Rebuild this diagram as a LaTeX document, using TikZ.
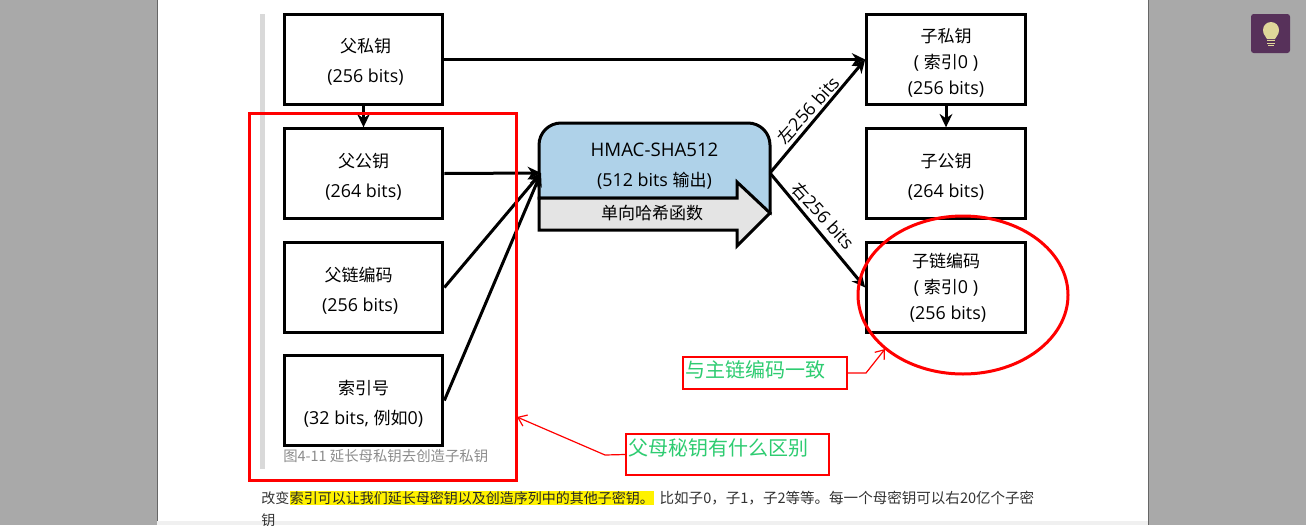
\documentclass[tikz,border=0pt]{standalone}
\usepackage{fontspec}
\usepackage{xcolor}
\setmainfont{Open Sans}
\newfontfamily\cjk{Noto Sans CJK SC}
\usetikzlibrary{positioning, arrows.meta, shapes.geometric}
\definecolor{pagegray}{HTML}{A9A9A9}
\definecolor{edgegray}{HTML}{666666}
\definecolor{bargray}{HTML}{D9D9D9}
\definecolor{hmacblue}{HTML}{AFD2E9}
\definecolor{hashgray}{HTML}{E4E4E4}
\definecolor{notegreen}{HTML}{2ECC71}
\definecolor{bulbpurple}{HTML}{57315A}
\definecolor{bulbyellow}{HTML}{E0D79A}
\newcommand{\zh}[1]{{\cjk\fontsize{12.75}{15}\selectfont #1}}
\newcommand{\keytop}{\rule{0pt}{16pt}}
\tikzstyle{keybox} = [rectangle, minimum width=119pt, minimum height=67pt, text centered, align=center, draw=black, line width=2.25pt, fill=white, font=\fontsize{13.4}{22.5}\selectfont]
\tikzstyle{threeline} = [font=\fontsize{13.4}{19.5}\selectfont]
\tikzstyle{arrow} = [line width=2.25pt,-{Stealth[length=10pt,width=9.5pt]}]
\tikzstyle{bitslabel} = [font=\fontsize{13.4}{15}\selectfont, inner sep=0pt]
\tikzstyle{redbox} = [rectangle, draw=red, inner sep=0pt]
\tikzstyle{note} = [redbox, line width=1.5pt, text=notegreen, font=\cjk\fontsize{15}{18}\selectfont, align=left]
\tikzstyle{notearrow} = [red, line width=0.9pt, -{Straight Barb[length=6pt,width=9pt]}]
\tikzstyle{bodytext} = [inner sep=0pt, text=black!80, font=\cjk\fontsize{10.5}{13}\selectfont]
\begin{document}
\begin{tikzpicture}[x=0.75pt, y=-0.75pt]
            \useasboundingbox (0,0) rectangle (1306,525);
            % Page background
            \fill [pagegray] (0,0) rectangle (1306,525);
            \fill [white] (157,0) rectangle (1148,525);
            \draw [edgegray, line width=0.75pt] (157,0) -- (157,525);
            \draw [edgegray, line width=0.75pt] (1148,0) -- (1148,525);
            \fill [black!6] (157,521) rectangle (1148,525);
            \fill [bargray] (260,14) rectangle (265,469);

            % Hash function shape
            \filldraw [fill=hmacblue, line width=2.25pt] (539,198) -- (539,145) arc (180:270:22) -- (748,123) arc (270:360:22) -- (770,213) -- (737,198) -- cycle;
            \filldraw [fill=hashgray, line width=2.25pt, line join=miter] (539,198) -- (737,198) -- (737,182) -- (770,213) -- (737,246) -- (737,230) -- (539,230) -- cycle;

            % Nodes
            \node (parentpriv) [keybox] at (363.5,59.5) {\rule{0pt}{14pt}\hspace*{3pt}\zh{父私钥}\\\hspace*{3pt}(256 bits)};
            \node (parentpub) [keybox] at (363.5,173.5) {\keytop\zh{父公钥}\\(264 bits)};
            \node (parentchain) [keybox] at (363.5,287.5) {\keytop\zh{父链编码}\hspace*{7.5pt}\\(256 bits)\hspace*{5pt}};
            \node (index) [keybox] at (363.5,400.5) {\keytop\zh{索引号}\\(32 bits, \zh{例如}0)};
            \node (childpriv) [keybox, threeline] at (946,59.5) {\keytop\zh{子私钥}\\( \zh{索引}0 )\\(256 bits)};
            \node (childpub) [keybox] at (946,173.5) {\keytop\zh{子公钥}\\(264 bits)};
            \node (childchain) [keybox, threeline] at (946,287.5) {\zh{子链编码}\\( \zh{索引}0 )\\\hspace*{3pt}(256 bits)};
            \node (hmac) [minimum width=173.25pt, minimum height=75pt, inner sep=0pt, align=center, font=\fontsize{13.4}{22}\selectfont] at (654.5,166) {{\fontsize{14}{22}\selectfont HMAC-SHA512}\\(512 bits \zh{输出})};
            \coordinate (hmacin) at (541,173);
            \coordinate (hmacout) at (770,173);
            \node (hash) [bitslabel, font=\cjk\fontsize{12.75}{15}\selectfont] at (652,213) {单向哈希函数};
            \node (caption) [inner sep=0pt, anchor=west, text=black!45, font=\cjk\fontsize{10.8}{13}\selectfont] at (283,456) {图4-11 延长母私钥去创造子私钥};

            % Body text under the figure
            \node (textA) [bodytext, anchor=west] at (261,498) {改变};
            \node (textB) [bodytext, right=0pt of textA, fill=yellow, text=black!85] {索引可以让我们延长母密钥以及创造序列中的其他子密钥。};
            \node (textC) [bodytext, right=4pt of textB, font=\cjk\fontsize{10.9}{13}\selectfont] {比如子0，子1，子2等等。每一个母密钥可以右20亿个子密};
            \node (textD) [bodytext, anchor=west] at (261,520) {钥};

            % Arrows
            \draw [arrow] (parentpriv) -- (parentpub);
            \draw [arrow] (parentpriv.east) -- (childpriv.west);
            \draw [arrow] (parentpub.east) -- (hmacin);
            \draw [arrow] (parentchain.east) -- (hmacin);
            \draw [arrow] (index.east) -- (hmacin);
            \draw [arrow] (childpriv) -- (childpub);
            \draw [arrow] (hmacout) -- (childpriv.west);
            \draw [arrow] (hmacout) -- (childchain.west);
            \node (leftbits) [bitslabel, rotate=48] at (808,110) {\zh{左}256 bits};
            \node (rightbits) [bitslabel, rotate=-48] at (823,216) {\zh{右}256 bits};

            % Red notes
            \node (leftframe) [redbox, line width=2.25pt, minimum width=200.25pt, minimum height=275.25pt] at (382.5,296.5) {};
            \node (circlemark) [ellipse, draw=red, line width=2.25pt, minimum width=157.5pt, minimum height=118.5pt, inner sep=0pt] at (963,295) {};
            \node (samenote) [note, minimum width=123pt, minimum height=24pt, text width=123pt] at (765,373) {\hspace{1.5pt}\raisebox{6pt}{与主链编码一致}};
            \node (diffnote) [note, minimum width=152.25pt, minimum height=30.75pt, text width=152.25pt] at (727.5,454.5) {\hspace{1.5pt}\raisebox{11.5pt}{父母秘钥有什么区别}};
            \coordinate (samebend) at (866,373);
            \coordinate (sametip) at (885,349);
            \coordinate (diffbend) at (605,455);
            \coordinate (difftip) at (517,417);
            \draw [notearrow] (samenote.east) -- (samebend) -- (sametip);
            \draw [notearrow] (diffnote.west) -- (diffbend) -- (difftip);

            % Bulb button
            \fill [bulbpurple, rounded corners=2pt] (1251,14) rectangle (1290,53);
            \fill [bulbyellow] (1267,39) .. controls (1266,36) and (1263,35) .. (1263,30) arc (180:360:8) .. controls (1279,35) and (1276,36) .. (1275,39) -- cycle;
            \fill [bulbyellow] (1267,40) rectangle (1275,41);
            \fill [bulbyellow] (1267,42.5) rectangle (1275,43.5);
            \fill [bulbyellow] (1268,44.5) rectangle (1274,46);
\end{tikzpicture}
\end{document}
